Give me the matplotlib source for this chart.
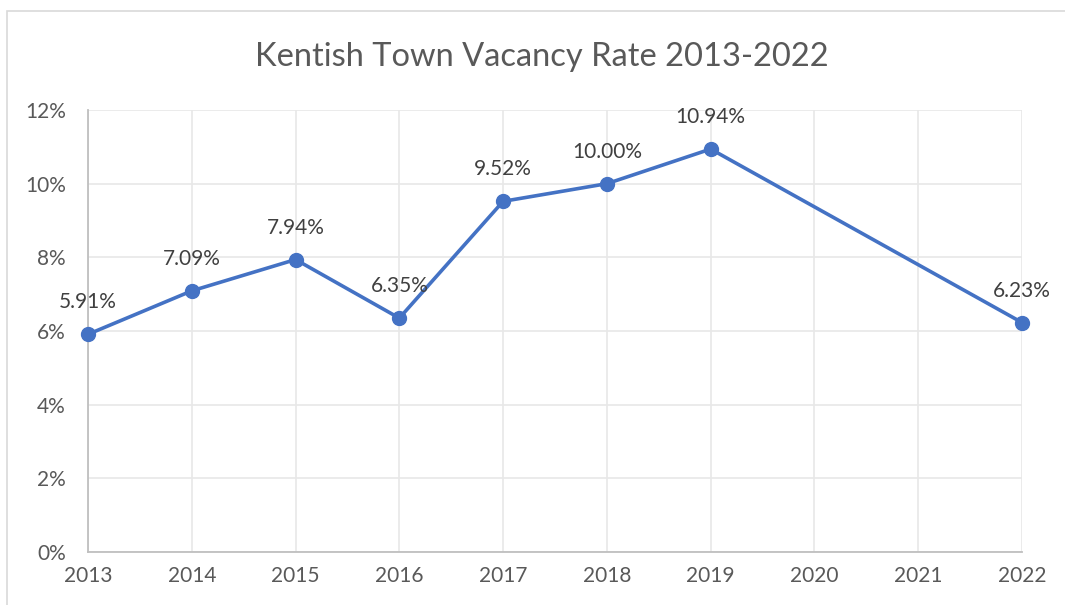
import matplotlib
matplotlib.use("Agg")
import matplotlib.pyplot as plt
from matplotlib.patches import Rectangle
from matplotlib.ticker import FuncFormatter

years = [2013, 2014, 2015, 2016, 2017, 2018, 2019, 2020, 2021, 2022]
rates = [5.91, 7.09, 7.94, 6.35, 9.52, 10.00, 10.94, None, None, 6.23]
y_ticks = [0, 2, 4, 6, 8, 10, 12]
title = "Kentish Town Vacancy Rate 2013-2022"

plt.rcParams['font.family'] = ['Lato', 'DejaVu Sans']

W, H = 1065, 605
fig = plt.figure(figsize=(W / 100, H / 100), dpi=100)
fig.patch.set_facecolor("white")

# chart area frame
fig.patches.append(Rectangle((7 / W, -0.1), 1.2, 1 - 11 / H + 0.1,
                             transform=fig.transFigure, fill=False,
                             edgecolor="#d9d9d9", linewidth=1.2))

ax = fig.add_axes([88 / W, (H - 552) / H, (1022 - 88) / W, (552 - 110) / H])

pts = [(i, v) for i, v in enumerate(rates) if v is not None]
xs = [p[0] for p in pts]
vs = [p[1] for p in pts]

ax.plot(xs, vs, color="#4472C4", linewidth=2.6, marker="o", markersize=10,
        zorder=3, clip_on=False)
for x, v in pts:
    ax.annotate(f"{v:.2f}%", (x, v), xytext=(0, 23), textcoords="offset points",
                ha="center", va="center", fontsize=15, color="#404040")

ax.set_xlim(0, len(years) - 1)
ax.set_ylim(0, 12)
ax.set_xticks(range(len(years)))
ax.set_xticklabels([str(y) for y in years])
ax.set_yticks(y_ticks)
ax.yaxis.set_major_formatter(FuncFormatter(lambda v, _: f"{v:.0f}%"))

ax.grid(True, color="#e8e8e8", linewidth=1.2, zorder=0)
ax.set_axisbelow(True)
for s in ["top", "right"]:
    ax.spines[s].set_visible(False)
for s in ["left", "bottom"]:
    ax.spines[s].set_color("#bfbfbf")
    ax.spines[s].set_linewidth(1.3)
ax.tick_params(length=0, labelsize=15, labelcolor="#595959")
ax.tick_params(axis="x", pad=10)
ax.tick_params(axis="y", pad=16)

fig.text(542 / W, 1 - 57 / H, title, ha="center", va="center",
         fontsize=23.5, color="#595959")

fig.savefig("out.png", dpi=100)
